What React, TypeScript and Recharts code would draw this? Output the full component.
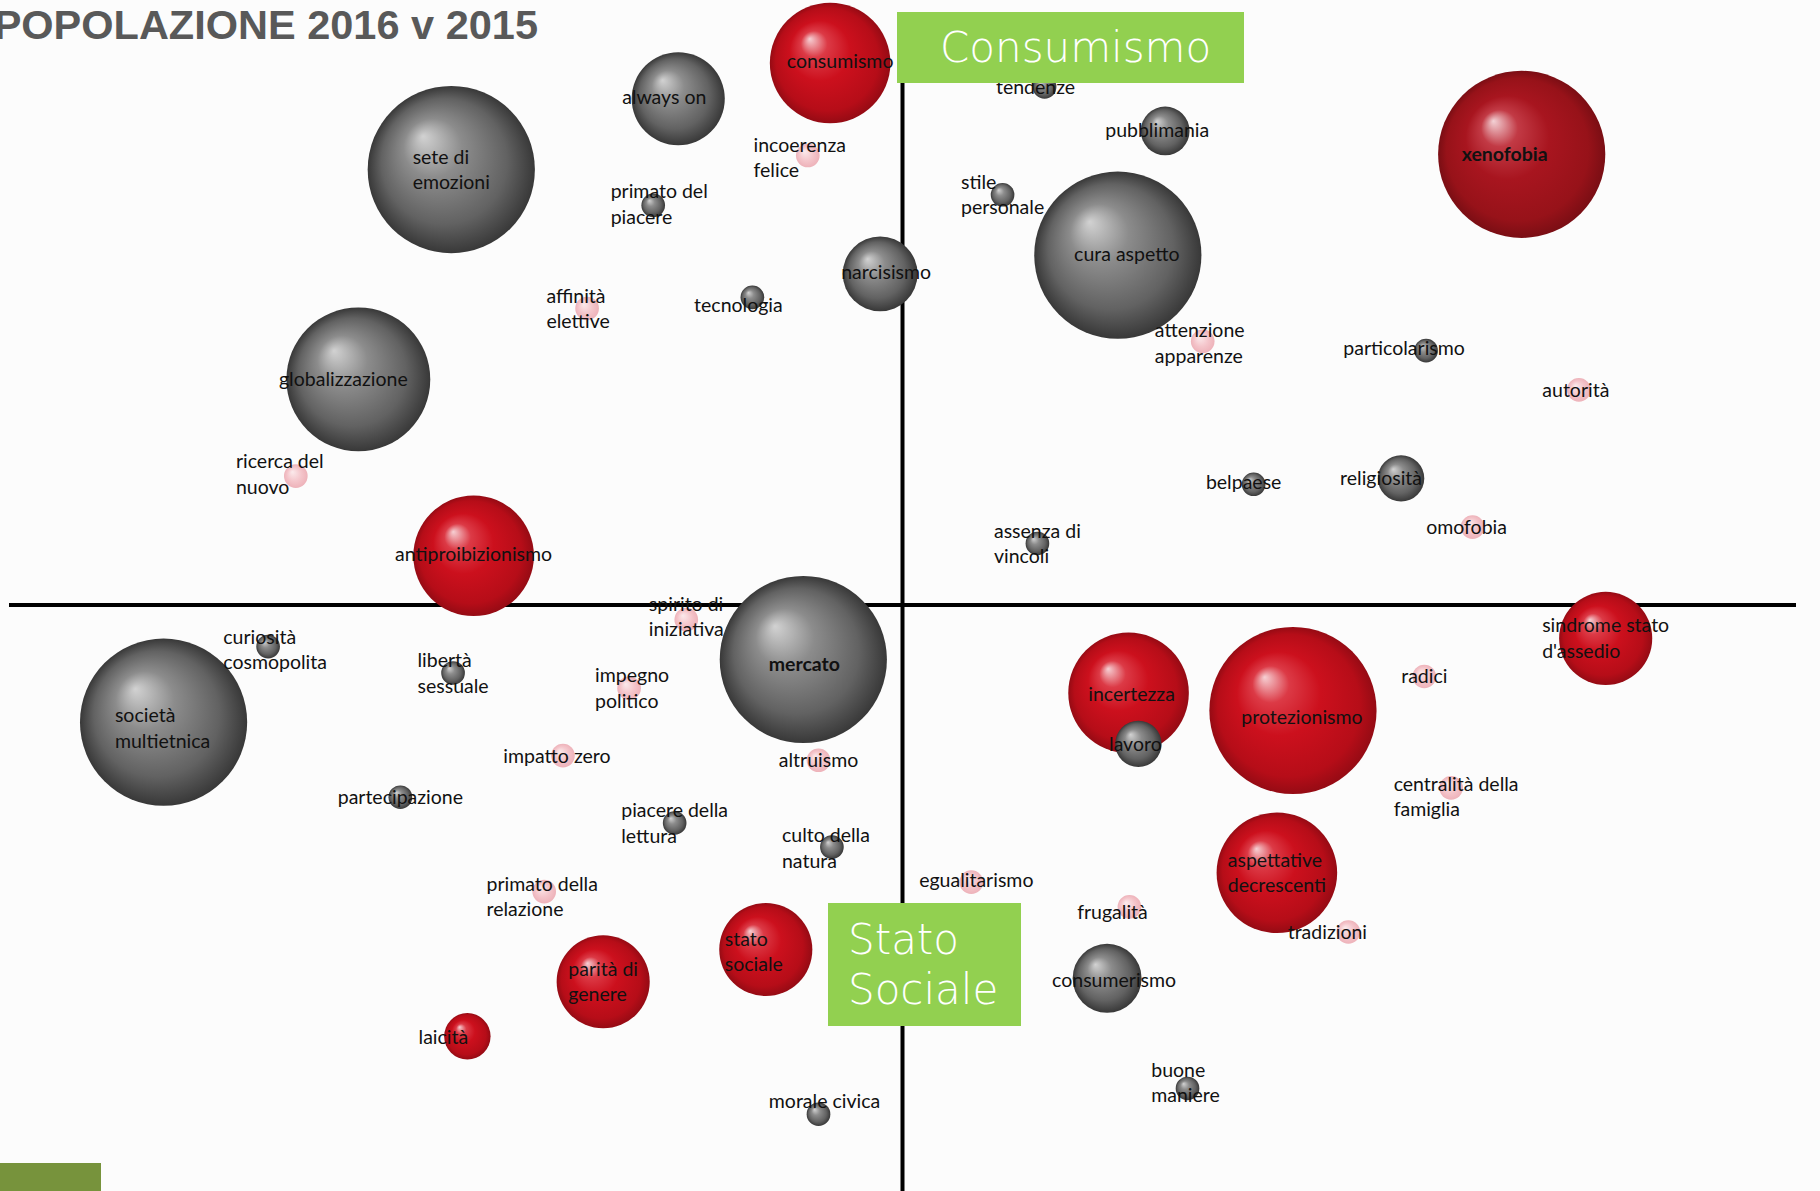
import React from 'react';
import {
  ScatterChart,
  Scatter,
  XAxis,
  YAxis,
  ZAxis,
  ReferenceLine
} from 'recharts';

// posizioni sulla mappa (asse x: -100..100, asse y: -100..100), z = peso (area della bolla)
const rossi = [
  { nome: 'consumismo', x: -8.1, y: 92.5, z: 52 },
  { nome: 'antiproibizionismo', x: -48.0, y: 8.4, z: 52 },
  { nome: "sindrome stato\nd'assedio", x: 78.7, y: -5.7, z: 31 },
  { nome: 'stato\nsociale', x: -15.3, y: -58.8, z: 31 },
  { nome: 'parità di\ngenere', x: -33.5, y: -64.3, z: 31 },
  { nome: 'laicità', x: -48.7, y: -73.6, z: 7.7 },
  { nome: 'incertezza', x: 25.3, y: -15.0, z: 52 },
  { nome: 'protezionismo', x: 43.7, y: -18.0, z: 100 },
  { nome: 'aspettative\ndecrescenti', x: 41.9, y: -45.7, z: 52 }
];

const rossiScuri = [
  { nome: 'xenofobia', x: 69.3, y: 76.9, z: 100 }
];

const grigi = [
  { nome: 'always on', x: -25.1, y: 86.4, z: 31 },
  { nome: 'sete di\nemozioni', x: -50.5, y: 74.3, z: 100 },
  { nome: 'primato del\npiacere', x: -27.9, y: 68.2, z: 2 },
  { nome: 'narcisismo', x: -2.5, y: 56.5, z: 20 },
  { nome: 'tecnologia', x: -16.8, y: 52.5, z: 2 },
  { nome: 'globalizzazione', x: -60.9, y: 38.5, z: 74 },
  { nome: 'tendenze', x: 15.9, y: 88.4, z: 2 },
  { nome: 'pubblimania', x: 29.4, y: 80.9, z: 8.5 },
  { nome: 'stile\npersonale', x: 11.2, y: 70.0, z: 2 },
  { nome: 'cura aspetto', x: 24.1, y: 59.7, z: 100 },
  { nome: 'particolarismo', x: 58.6, y: 43.4, z: 2 },
  { nome: 'belpaese', x: 39.3, y: 20.6, z: 2 },
  { nome: 'religiosità', x: 55.8, y: 21.6, z: 7.7 },
  { nome: 'assenza di\nvincoli', x: 15.1, y: 10.5, z: 2 },
  { nome: 'mercato', x: -11.1, y: -9.3, z: 100 },
  { nome: 'curiosità\ncosmopolita', x: -71.0, y: -7.1, z: 2 },
  { nome: 'società\nmultietnica', x: -82.7, y: -20.0, z: 100 },
  { nome: 'libertà\nsessuale', x: -50.3, y: -11.6, z: 2 },
  { nome: 'partecipazione', x: -56.2, y: -32.8, z: 2 },
  { nome: 'piacere della\nlettura', x: -25.5, y: -37.2, z: 2 },
  { nome: 'culto della\nnatura', x: -7.9, y: -41.3, z: 2 },
  { nome: 'morale civica', x: -9.4, y: -86.9, z: 2 },
  { nome: 'lavoro', x: 26.4, y: -23.7, z: 7.7 },
  { nome: 'consumerismo', x: 22.9, y: -63.7, z: 17 },
  { nome: 'buone\nmaniere', x: 31.9, y: -82.5, z: 2 }
];

const rosa = [
  { nome: 'incoerenza\nfelice', x: -10.6, y: 76.7, z: 2 },
  { nome: 'affinità\nelettive', x: -35.3, y: 50.6, z: 2 },
  { nome: 'ricerca del\nnuovo', x: -67.9, y: 22.0, z: 2 },
  { nome: 'attenzione\napparenze', x: 33.6, y: 45.0, z: 2 },
  { nome: 'autorità', x: 75.7, y: 36.7, z: 2 },
  { nome: 'omofobia', x: 63.8, y: 13.3, z: 2 },
  { nome: 'spirito di\niniziativa', x: -24.2, y: -2.5, z: 2 },
  { nome: 'impegno\npolitico', x: -30.6, y: -14.2, z: 2 },
  { nome: 'impatto zero', x: -38.0, y: -25.7, z: 2 },
  { nome: 'altruismo', x: -9.4, y: -26.5, z: 2 },
  { nome: 'primato della\nrelazione', x: -40.1, y: -48.9, z: 2 },
  { nome: 'radici', x: 58.4, y: -12.2, z: 2 },
  { nome: 'centralità della\nfamiglia', x: 61.4, y: -31.2, z: 2 },
  { nome: 'egualitarismo', x: 7.7, y: -47.3, z: 2 },
  { nome: 'frugalità', x: 25.4, y: -51.5, z: 2 },
  { nome: 'tradizioni', x: 49.9, y: -55.8, z: 2 }
];

const tutti = [...rosa, ...rossi, ...rossiScuri, ...grigi];

// etichette spostate a mano (px)
const spostamenti: Record<string, [number, number]> = {
  consumismo: [10, -2],
  'always on': [-14, -2],
  'incoerenza\nfelice': [-8, 2],
  'primato del\npiacere': [6, -1],
  narcisismo: [6, -2],
  'affinità\nelettive': [-9, 0],
  tecnologia: [-14, 8],
  globalizzazione: [-15, 0],
  'ricerca del\nnuovo': [-16, -2],
  antiproibizionismo: [0, -2],
  tendenze: [-9, 0],
  pubblimania: [-8, -1],
  'cura aspetto': [9, -1],
  xenofobia: [-17, 0],
  'attenzione\napparenze': [-3, 2],
  particolarismo: [-22, -3],
  autorità: [-3, 0],
  belpaese: [-10, -2],
  religiosità: [-20, 0],
  omofobia: [-6, 0],
  'spirito di\niniziativa': [0, -3],
  mercato: [1, 5],
  'curiosità\ncosmopolita': [7, 3],
  'società\nmultietnica': [-1, 6],
  'impegno\npolitico': [3, 0],
  'impatto zero': [-6, 1],
  'culto della\nnatura': [-6, 1],
  'primato della\nrelazione': [-2, 5],
  'stato\nsociale': [-12, 2],
  laicità: [-24, 1],
  'morale civica': [6, -13],
  incertezza: [3, 1],
  lavoro: [-3, 0],
  protezionismo: [9, 7],
  'centralità della\nfamiglia': [5, 9],
  egualitarismo: [5, -2],
  frugalità: [-17, 5],
  tradizioni: [-21, 0],
  consumerismo: [7, 2],
  'buone\nmaniere': [-2, -6]
};

const grassetto = ['xenofobia', 'mercato'];

const FONT = 'Lato, "Open Sans", sans-serif';
const FS = 19.5;
const LH = 25.5;

let ctx: CanvasRenderingContext2D | null = null;
const misura = (t: string, bold: boolean) => {
  if (!ctx) ctx = document.createElement('canvas').getContext('2d');
  if (!ctx) return t.length * FS * 0.5;
  ctx.font = `${bold ? 'bold ' : ''}${FS}px Lato`;
  return ctx.measureText(t).width;
};

const Sfera = (props: any) => {
  const { cx, cy, width, size, tono } = props;
  if (cx == null || cy == null) return <g />;
  const r = width ? width / 2 : Math.sqrt((size || 0) / Math.PI);
  return <circle cx={cx} cy={cy} r={r} fill={`url(#${tono})`} opacity={tono === 'rosa' ? 0.8 : 1} />;
};

const Etichetta = (props: any) => {
  const { cx, cy, payload } = props;
  if (cx == null || cy == null || !payload) return <g />;
  const nome: string = payload.nome;
  const righe = nome.split('\n');
  const bold = grassetto.includes(nome);
  const [dx, dy] = spostamenti[nome] || [0, 0];
  const w = Math.max(...righe.map((r) => misura(r, bold)));
  const left = cx + dx - w / 2;
  const mid = cy + dy;
  return (
    <g>
      {righe.map((r, i) => (
        <text
          key={i}
          x={left}
          y={mid + (i - (righe.length - 1) / 2) * LH + FS * 0.35}
          fontSize={FS}
          fontFamily={FONT}
          fontWeight={bold ? 700 : 400}
          fill="#111"
        >
          {r}
        </text>
      ))}
    </g>
  );
};

const box: React.CSSProperties = {
  position: 'absolute',
  background: '#92D050',
  color: '#fff',
  fontFamily: '"DejaVu Sans", sans-serif',
  fontWeight: 200,
  fontSize: 42,
  boxSizing: 'border-box'
};

export default function App() {
  return (
    <div style={{ position: 'relative', width: 1820, height: 1191, background: '#fcfcfc', overflow: 'hidden' }}>
      <style>{'body{margin:0;background:#fcfcfc}'}</style>
      <ScatterChart width={1820} height={1191} margin={{ top: 19, right: 24, bottom: 0, left: 9 }}>
        <defs>
          <radialGradient id="grigio" cx="50%" cy="50%" r="50%" fx="33%" fy="30%">
            <stop offset="0%" stopColor="#d2d2d2" />
            <stop offset="35%" stopColor="#8c8c8c" />
            <stop offset="75%" stopColor="#626262" />
            <stop offset="100%" stopColor="#383838" />
          </radialGradient>
          <radialGradient id="rosso" cx="50%" cy="50%" r="50%" fx="33%" fy="30%">
            <stop offset="0%" stopColor="#f6d0d4" />
            <stop offset="22%" stopColor="#dc3a46" />
            <stop offset="50%" stopColor="#cc101d" />
            <stop offset="85%" stopColor="#b60d18" />
            <stop offset="100%" stopColor="#950b14" />
          </radialGradient>
          <radialGradient id="rossoScuro" cx="50%" cy="50%" r="50%" fx="33%" fy="30%">
            <stop offset="0%" stopColor="#f3d2d6" />
            <stop offset="22%" stopColor="#c23a45" />
            <stop offset="50%" stopColor="#a8151f" />
            <stop offset="85%" stopColor="#971219" />
            <stop offset="100%" stopColor="#7a0e14" />
          </radialGradient>
          <radialGradient id="rosa" cx="50%" cy="50%" r="50%" fx="35%" fy="32%">
            <stop offset="0%" stopColor="#fbe6e8" />
            <stop offset="60%" stopColor="#f2b7be" />
            <stop offset="100%" stopColor="#eaa0a9" />
          </radialGradient>
        </defs>
        <XAxis type="number" dataKey="x" domain={[-100, 100]} hide />
        <YAxis type="number" dataKey="y" domain={[-100, 100]} hide />
        <ZAxis type="number" dataKey="z" domain={[0, 100]} range={[0, 21956]} />
        <ReferenceLine x={0} stroke="#000" strokeWidth={4} />
        <ReferenceLine y={0} stroke="#000" strokeWidth={4} />
        <Scatter name="rosa" data={rosa} isAnimationActive={false} shape={(p: any) => <Sfera {...p} tono="rosa" />} />
        <Scatter name="rossi" data={rossi} isAnimationActive={false} shape={(p: any) => <Sfera {...p} tono="rosso" />} />
        <Scatter name="rossiScuri" data={rossiScuri} isAnimationActive={false} shape={(p: any) => <Sfera {...p} tono="rossoScuro" />} />
        <Scatter name="grigi" data={grigi} isAnimationActive={false} shape={(p: any) => <Sfera {...p} tono="grigio" />} />
        <Scatter name="etichette" data={tutti} isAnimationActive={false} shape={Etichetta} />
      </ScatterChart>

      <div
        style={{
          position: 'absolute',
          right: 1820 - 538,
          top: 3,
          whiteSpace: 'nowrap',
          fontFamily: '"Liberation Sans", Arial, sans-serif',
          fontWeight: 700,
          fontSize: 41.5,
          lineHeight: '44px',
          color: '#595959'
        }}
      >
        POPOLAZIONE 2016 v 2015
      </div>

      <div style={{ ...box, left: 897, top: 12, width: 347, height: 71, paddingLeft: 43, lineHeight: '72px' }}>
        Consumismo
      </div>
      <div style={{ ...box, left: 828, top: 903, width: 193, height: 123, paddingLeft: 20, paddingTop: 12, lineHeight: '50px' }}>
        Stato
        <br />
        Sociale
      </div>
      <div style={{ position: 'absolute', left: 0, top: 1163, width: 101, height: 28, background: '#77933C' }} />
    </div>
  );
}
